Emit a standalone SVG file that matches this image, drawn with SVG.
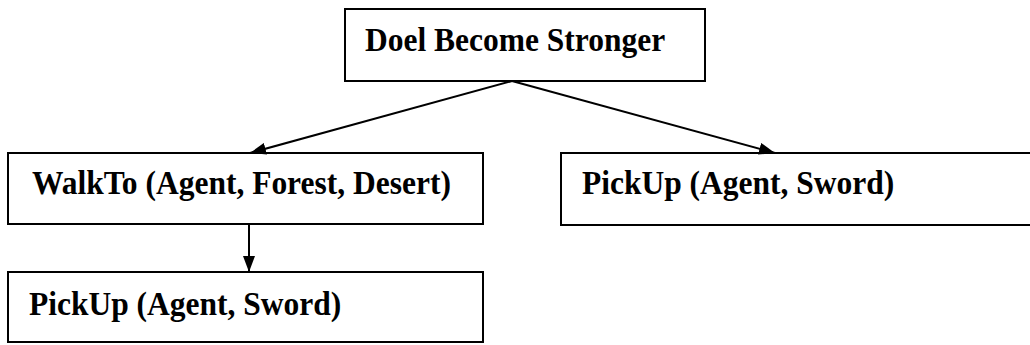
<svg xmlns="http://www.w3.org/2000/svg" width="1030" height="345" viewBox="0 0 1030 345">
  <style>
    .box { fill: #ffffff; stroke: #000000; stroke-width: 2; }
    .label { font-family: "Liberation Serif", "Times New Roman", serif; font-weight: bold; font-size: 31.5px; fill: #000000; }
    .edge { stroke: #000000; stroke-width: 2; fill: none; }
  </style>
  <defs>
    <marker id="arrow" viewBox="0 0 16 12" refX="16" refY="6" markerWidth="16" markerHeight="12" markerUnits="userSpaceOnUse" orient="auto">
      <path d="M0,0 L16,6 L0,12 Z" fill="#000000"/>
    </marker>
  </defs>

  <rect width="1030" height="345" fill="#ffffff"/>

  <g id="goal">
    <rect class="box" x="345" y="9" width="360" height="72"/>
    <text class="label" transform="translate(365 51) scale(1 1.05)">Doel Become Stronger</text>
  </g>

  <g id="walkto">
    <rect class="box" x="8" y="153" width="475" height="71"/>
    <text class="label" transform="translate(32 194) scale(1 1.05)">WalkTo (Agent, Forest, Desert)</text>
  </g>

  <g id="pickup-after-walk">
    <rect class="box" x="8" y="272" width="475" height="70"/>
    <text class="label" transform="translate(29 315) scale(1 1.05)">PickUp (Agent, Sword)</text>
  </g>

  <g id="pickup-direct">
    <rect class="box" x="561" y="153" width="480" height="72"/>
    <text class="label" transform="translate(582 194) scale(1 1.05)">PickUp (Agent, Sword)</text>
  </g>

  <g id="connectors">
    <line class="edge" x1="512" y1="81" x2="250" y2="153" marker-end="url(#arrow)"/>
    <line class="edge" x1="512" y1="81" x2="775" y2="153" marker-end="url(#arrow)"/>
    <line class="edge" x1="249" y1="224" x2="249" y2="272" marker-end="url(#arrow)"/>
  </g>
</svg>
